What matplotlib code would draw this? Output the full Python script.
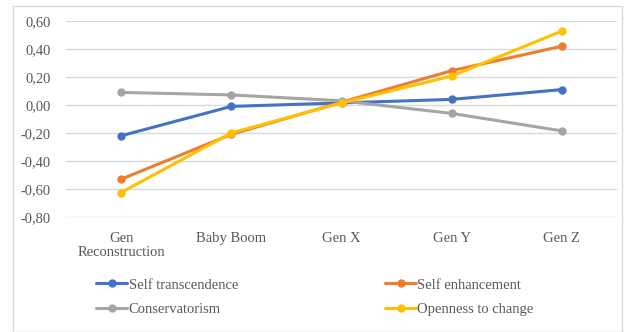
import matplotlib
matplotlib.use("Agg")
import matplotlib.pyplot as plt
from matplotlib.patches import Rectangle
from matplotlib.ticker import FuncFormatter

# Generations on the x axis
geracoes = ["Gen\nReconstruction", "Baby Boom", "Gen X", "Gen Y", "Gen Z"]

# Mean scores per value dimension
self_transcendence = [-0.22, -0.01, 0.015, 0.04, 0.11]
self_enhancement = [-0.53, -0.21, 0.02, 0.245, 0.42]
conservatorism = [0.09, 0.072, 0.03, -0.06, -0.185]
openness = [-0.625, -0.20, 0.015, 0.207, 0.528]

series = [
    ("Self transcendence", self_transcendence, "#4472C4"),
    ("Self enhancement", self_enhancement, "#ED7D31"),
    ("Conservatorism", conservatorism, "#A5A5A5"),
    ("Openness to change", openness, "#FFC000"),
]

plt.rcParams["font.family"] = ["Liberation Serif", "DejaVu Serif"]
texto = "#595959"
fs = 10.5

fig = plt.figure(figsize=(6.3, 3.32), dpi=100)
ax = fig.add_axes([66 / 630, 1 - 217 / 332, 551 / 630, 196 / 332])

x = range(len(geracoes))
linhas = {}
for nome, valores, cor in series:
    (linha,) = ax.plot(x, valores, color=cor, lw=2.2, marker="o", ms=5,
                       label=nome, solid_capstyle="round")
    linhas[nome] = linha

ax.set_xlim(-0.5, len(geracoes) - 0.5)
ax.set_ylim(-0.8, 0.6)
ax.set_yticks([-0.8, -0.6, -0.4, -0.2, 0.0, 0.2, 0.4, 0.6])
ax.yaxis.set_major_formatter(FuncFormatter(
    lambda v, p: f"{v:.2f}".replace(".", ",").replace("-0,00", "0,00")))
ax.set_xticks(list(x))
ax.set_xticklabels(geracoes, linespacing=1.05)
ax.tick_params(axis="both", length=0, labelsize=fs, colors=texto)
ax.tick_params(axis="x", pad=11)
ax.tick_params(axis="y", pad=11)
ax.grid(axis="y", color="#D9D9D9", lw=1)
ax.set_axisbelow(True)
for s in ax.spines.values():
    s.set_visible(False)
ax.set_clip_on(False)

# legend in two columns, row by row
ordem = ["Self transcendence", "Conservatorism", "Self enhancement", "Openness to change"]
leg = fig.legend([linhas[n] for n in ordem], ordem, ncol=2, loc="center",
                 bbox_to_anchor=(315 / 630, 1 - 297 / 332), frameon=False,
                 fontsize=fs, handlelength=2.1, handletextpad=0.1,
                 columnspacing=10.1, labelspacing=0.75)
for t in leg.get_texts():
    t.set_color(texto)

# chart border
fig.patches.append(Rectangle((13 / 630, 0.5 / 332), 609 / 630, 326 / 332,
                             transform=fig.transFigure, fill=False,
                             edgecolor="#D9D9D9", lw=1))

fig.savefig("out.png", dpi=100)
